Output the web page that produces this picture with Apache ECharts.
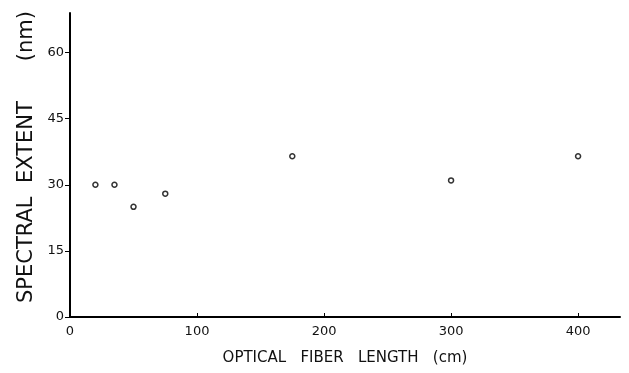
<!DOCTYPE html>
<html>
<head>
<meta charset="utf-8">
<script src="https://cdn.jsdelivr.net/npm/echarts@6/dist/echarts.min.js"></script>
<style>
  html, body { margin: 0; padding: 0; background: #fff; }
  #chart { width: 629px; height: 373px; }
</style>
</head>
<body>
<div id="chart"></div>
<script>
// fiber length (cm) and spectral extent (nm)
const fiberLength = [20, 35, 50, 75, 175, 300, 400]
const spectralExtent = [30, 30, 25, 28, 36.5, 31, 36.5]
const yTicks = [0, 15, 30, 45, 60]
const xTicks = [0, 100, 200, 300, 400]

const points = fiberLength.map((x, i) => [x, spectralExtent[i]])

const chart = echarts.init(document.getElementById('chart'))

const labelFont = {
  color: '#111',
  fontFamily: 'DejaVu Sans',
  fontSize: 13
}

chart.setOption({
  animation: false,
  grid: {
    left: 70,
    right: 9,
    top: 13,
    bottom: 56
  },
  xAxis: {
    type: 'value',
    min: 0,
    max: 433,
    interval: 100,
    name: 'OPTICAL   FIBER   LENGTH   (cm)',
    nameLocation: 'middle',
    nameGap: 34,
    nameTextStyle: { color: '#111', fontFamily: 'DejaVu Sans', fontSize: 15 },
    axisLine: { lineStyle: { color: '#000', width: 2 } },
    axisTick: { inside: true, length: 4, lineStyle: { color: '#000' } },
    axisLabel: {
      ...labelFont,
      margin: 8,
      showMaxLabel: false,
      formatter: v => (xTicks.includes(v) ? String(v) : '')
    },
    splitLine: { show: false }
  },
  yAxis: {
    type: 'value',
    min: 0,
    max: 69,
    interval: 15,
    name: 'SPECTRAL  EXTENT      (nm)',
    nameLocation: 'middle',
    nameGap: 33,
    nameTextStyle: { color: '#111', fontFamily: 'DejaVu Sans', fontSize: 21, padding: [0, 0, 0, 16] },
    axisLine: { lineStyle: { color: '#000', width: 2 } },
    axisTick: { length: 5, lineStyle: { color: '#000' } },
    axisLabel: {
      ...labelFont,
      margin: 6,
      showMaxLabel: false,
      formatter: v => (yTicks.includes(v) ? String(v) : '')
    },
    splitLine: { show: false }
  },
  series: [
    {
      type: 'scatter',
      data: points,
      symbol: 'circle',
      symbolSize: 5,
      itemStyle: {
        color: '#fff',
        borderColor: '#000',
        borderWidth: 1.5
      }
    }
  ]
})
</script>
</body>
</html>
